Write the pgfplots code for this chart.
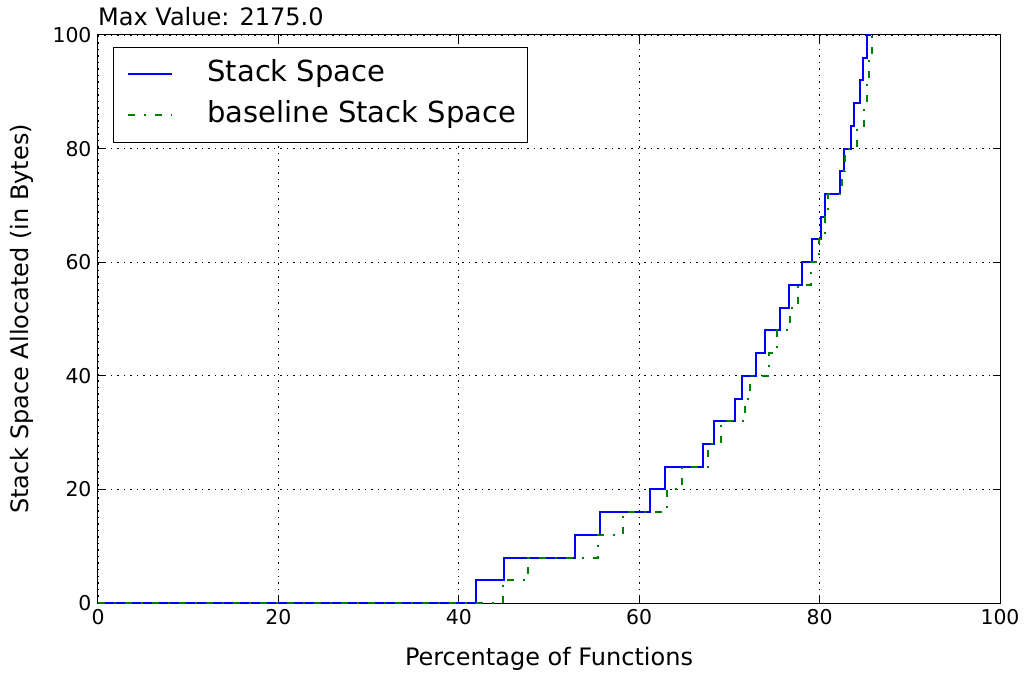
\documentclass[border=0pt]{standalone}
\usepackage{fontspec}
\setmainfont{DejaVu Sans}
\usepackage{pgfplots}
\pgfplotsset{compat=1.18}
\begin{document}
\begin{tikzpicture}[x=1pt,y=1pt]
\begin{axis}[
  at={(0pt,0pt)}, anchor=south west,
  scale only axis, width=902pt, height=568pt,
  xmin=0, xmax=100, ymin=0, ymax=100,
  xtick={0,20,40,60,80,100}, ytick={0,20,40,60,80,100},
  /pgf/number format/assume math mode=true,
  tick label style={font=\fontsize{20.4}{24}\selectfont},
  xticklabel style={yshift=-3pt},
  yticklabel style={xshift=-3pt},
  label style={font=\fontsize{24}{28}\selectfont},
  xlabel={Percentage of Functions},
  ylabel={Stack Space Allocated (in Bytes)},
  xlabel style={yshift=-15pt},
  ylabel style={at={(axis description cs:-0.0843,0.5)}, anchor=center},
  tick align=inside, major tick length=7pt,
  xtick pos=both, ytick pos=both,
  tick style={black, line width=1pt},
  axis line style={black, line width=1pt},
  grid=major,
  major grid style={black, line width=0.8pt, dash pattern=on 1.5pt off 5pt},
  title={Max Value: 2175.0},
  title style={at={(0,1)}, anchor=south west, inner xsep=0pt, inner ysep=3pt, font=\fontsize{24}{28}\selectfont},
  legend image code/.code={\path[draw=none] (-4pt,0pt) -- (79pt,0pt); \draw[#1] (0pt,0pt) -- (44pt,0pt);},
  legend style={at={(0.0166,0.979)}, anchor=north west, draw=black, line width=1pt,
    font=\fontsize{29}{35}\selectfont, inner xsep=11pt, inner ysep=13.5pt,
    nodes={inner sep=0pt, text height=21pt, text depth=6pt},
    row sep=14pt, cells={anchor=west}},
  legend cell align=left,
]
\addplot[const plot, blue, line width=2pt] coordinates {
(0,0) (41.9,4) (45.0,8) (52.9,12) (55.6,16) (61.2,20) (62.9,24) (67.1,28) (68.3,32)
(70.6,36) (71.35,40) (72.95,44) (73.95,48) (75.6,52) (76.6,56) (78.0,60) (79.2,64)
(80.1,68) (80.6,72) (82.3,76) (82.7,80) (83.5,84) (83.8,88) (84.5,92) (84.8,96)
(85.2,100) (85.6,104) (100,2175)};
\addlegendentry{Stack Space}
\addplot[const plot, green!50!black, line width=2pt, dash pattern=on 7pt off 9pt on 2pt off 9pt] coordinates {
(0,0) (44.9,4) (47.7,8) (55.4,12) (58.2,16) (63.1,20) (64.8,24) (67.6,28) (69.1,32)
(71.7,36) (72.3,40) (74.4,44) (75.3,48) (76.7,52) (77.6,56) (79.0,60) (79.9,64)
(80.6,68) (80.9,72) (82.5,76) (82.8,80) (84.1,84) (84.9,88) (85.2,92) (85.5,96)
(85.8,100) (86.2,104) (100,2175)};
\addlegendentry{baseline Stack Space}
\end{axis}
\pgfresetboundingbox
\path (-98pt,-72pt) rectangle (931pt,603pt);
\end{tikzpicture}
\end{document}
